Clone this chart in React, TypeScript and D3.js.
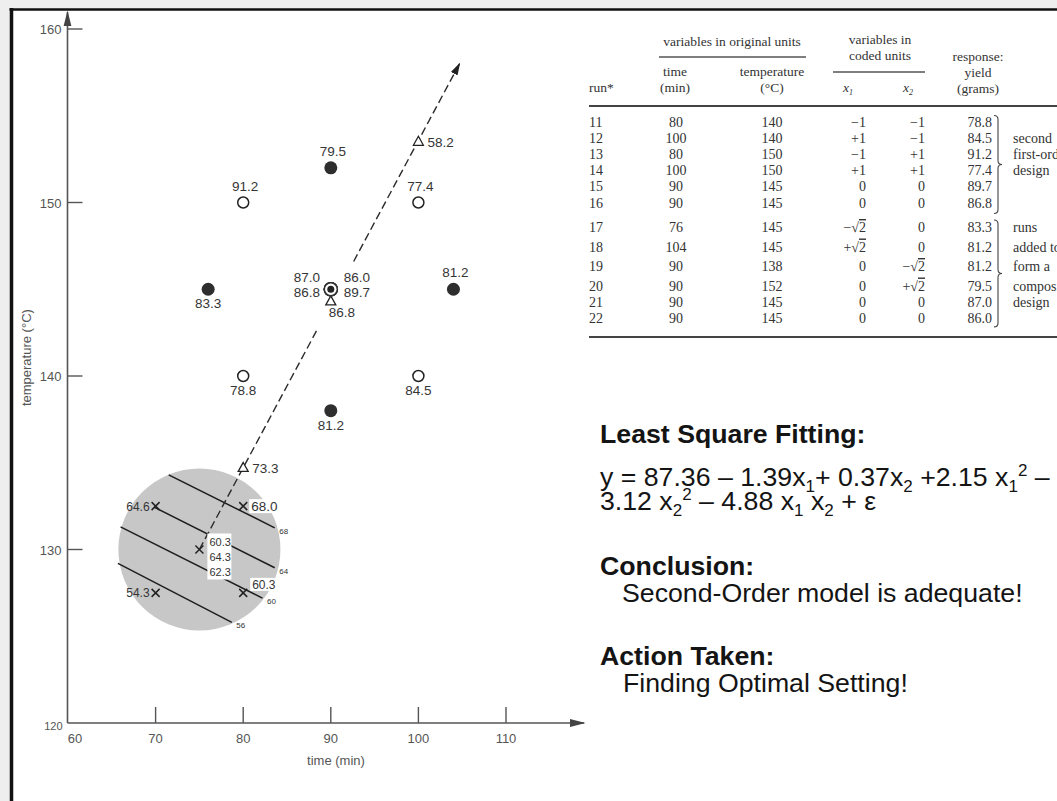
import React from "react";
import * as d3 from "d3";

const W = 1057;
const H = 801;

// ---- table of runs (second-order / central composite design) ----
const runs = [11, 12, 13, 14, 15, 16, 17, 18, 19, 20, 21, 22];
const timeMin = [80, 100, 80, 100, 90, 90, 76, 104, 90, 90, 90, 90];
const tempC = [140, 140, 150, 150, 145, 145, 145, 145, 138, 152, 145, 145];
const codedX1 = ["−1", "+1", "−1", "+1", "0", "0", "−√2", "+√2", "0", "0", "0", "0"];
const codedX2 = ["−1", "−1", "+1", "+1", "0", "0", "0", "0", "−√2", "+√2", "0", "0"];
const yieldG = ["78.8", "84.5", "91.2", "77.4", "89.7", "86.8", "83.3", "81.2", "81.2", "79.5", "87.0", "86.0"];
const runGroup = [1, 1, 1, 1, 1, 1, 2, 2, 2, 2, 2, 2];
const groupNotes1 = ["second", "first-order", "design"];
const groupNotes2 = ["runs", "added to", "form a", "composite", "design"];

// marker kind and label placement for each run on the plot
const runMarker = ["open", "open", "open", "open", "centre", "centre", "filled", "filled", "filled", "filled", "centre", "centre"];
const runLabelPos = ["below", "below", "above", "above", "cLR", "cLL", "below", "above", "below", "above", "cUL", "cUR"];

// ---- first-order design (crosses) ----
const firstTime = [70, 80, 70, 80];
const firstTemp = [132.5, 132.5, 127.5, 127.5];
const firstYield = ["64.6", "68.0", "54.3", "60.3"];
const firstLabelPos = ["left", "rightBox", "left", "upRightBox"];
const centreTime = 75;
const centreTemp = 130;
const centreYields = ["60.3", "64.3", "62.3"];
const regionRadiusMin = 9.25;

// ---- path of steepest ascent (triangles) ----
const pathTime = [80, 90, 100];
const pathTemp = [134.7, 144.3, 153.5];
const pathYield = ["73.3", "86.8", "58.2"];
const pathLabelPos = ["right", "belowRight", "right"];
const pathStart = { t: 75, T: 130 };
const pathEnd = { t: 104.7, T: 158 };
const pathGapTemps = [142.6, 146.6];

// ---- contours of the first-order fit ----
const contourLevels = ["68", "64", "60", "56"];
const contourT0 = [71.5, 69.8, 66.0, 65.7];
const contourC0 = [134.3, 132.45, 131.3, 129.2];
const contourT1 = [83.6, 83.6, 82.2, 78.7];
const contourC1 = [131.25, 128.95, 127.2, 125.8];

// ---- axes ----
const xTicks = [60, 70, 80, 90, 100, 110];
const yTicks = [120, 130, 140, 150, 160];

const SANS = "'Liberation Sans', Arial, Helvetica, sans-serif";
const SERIF = "'Liberation Serif', 'Times New Roman', serif";
const PLOT_INK = "#353535";
const TEXT_INK = "#141414";

function Sqrt({ s }: { s: string }) {
  if (!s.includes("√")) return <>{s}</>;
  const [pre] = s.split("√");
  return (
    <>
      <tspan>{pre}√</tspan>
      <tspan style={{ textDecoration: "overline" }}>2</tspan>
    </>
  );
}

function brace(x: number, y0: number, y1: number) {
  const m = (y0 + y1) / 2;
  return `M${x},${y0} q4,0 4,4 L${x + 4},${m - 4} q0,4 4,4 q-4,0 -4,4 L${x + 4},${y1 - 4} q0,4 -4,4`;
}

export default function App() {
  const x = d3.scaleLinear().domain([60, 110]).range([68, 506]);
  const y = d3.scaleLinear().domain([120, 160]).range([723, 29]);
  const axisX = x(60) - 0.5;
  const axisY = y(120);

  const line = d3
    .line<{ t: number; T: number }>()
    .x((d) => x(d.t))
    .y((d) => y(d.T));

  const slope = (pathEnd.T - pathStart.T) / (pathEnd.t - pathStart.t);
  const tAt = (T: number) => pathStart.t + (T - pathStart.T) / slope;
  const seg1 = [pathStart, { t: tAt(pathGapTemps[0]), T: pathGapTemps[0] }];
  const seg2 = [{ t: tAt(pathGapTemps[1]), T: pathGapTemps[1] }, pathEnd];

  const cx = x(centreTime);
  const cy = y(centreTemp);
  const rr = x(centreTime + regionRadiusMin) - x(centreTime);

  // table rows
  const rowY: number[] = [];
  let yy = 126;
  runs.forEach((_, i) => {
    if (i === 0) yy = 126.5;
    else if (runGroup[i] !== runGroup[i - 1]) yy = 232;
    else yy += codedX1[i].includes("√") || codedX2[i].includes("√") ? 19.5 : 16.2;
    rowY.push(yy);
  });
  const g1 = rowY.filter((_, i) => runGroup[i] === 1);
  const g2 = rowY.filter((_, i) => runGroup[i] === 2);

  const runLabel = (i: number) => {
    const px = x(timeMin[i]);
    const py = y(tempC[i]);
    const p = runLabelPos[i];
    const base = { fontSize: 13.5, fill: PLOT_INK, fontFamily: SANS } as any;
    if (p === "above") return <text key={"rl" + i} x={px + 2} y={py - 12} textAnchor="middle" {...base}>{yieldG[i]}</text>;
    if (p === "below") return <text key={"rl" + i} x={px} y={py + 19} textAnchor="middle" {...base}>{yieldG[i]}</text>;
    const dx = p === "cUL" || p === "cLL" ? -24 : 26;
    const dy = p === "cUL" || p === "cUR" ? -7.5 : 7.5;
    return <text key={"rl" + i} x={px + dx} y={py + dy} textAnchor="middle" {...base}>{yieldG[i]}</text>;
  };

  return (
    <svg
      width={W}
      height={H}
      viewBox={`0 0 ${W} ${H}`}
      style={{ position: "absolute", left: 0, top: 0, display: "block" }}
    >
      <defs>
        <marker id="arr" viewBox="0 0 10 10" refX="9" refY="5" markerWidth="9" markerHeight="9" orient="auto">
          <path d="M0,2 L10,5 L0,8 z" fill="#222" />
        </marker>
        <marker id="axarr" viewBox="0 0 10 10" refX="9" refY="5" markerWidth="10" markerHeight="10" orient="auto">
          <path d="M0,2.5 L10,5 L0,7.5 z" fill="#444" />
        </marker>
      </defs>

      {/* frame */}
      <rect x={0} y={0} width={W} height={H} fill="#eeeeee" />
      <rect x={11} y={9} width={W - 11} height={H - 9} fill="#ffffff" />
      <line x1={9.5} y1={9.5} x2={W} y2={9.5} stroke="#111" strokeWidth={2.5} />
      <line x1={11.5} y1={8} x2={11.5} y2={H} stroke="#111" strokeWidth={3.5} />

      {/* ================== PLOT ================== */}
      {/* region of first design */}
      <circle cx={cx} cy={cy} r={rr} fill="#c7c7c7" />

      {/* contours */}
      {contourLevels.map((lv, i) => (
        <g key={"c" + lv}>
          <line
            x1={x(contourT0[i])}
            y1={y(contourC0[i])}
            x2={x(contourT1[i])}
            y2={y(contourC1[i])}
            stroke="#1e1e1e"
            strokeWidth={1.5}
          />
          <text
            x={x(contourT1[i]) + 9}
            y={y(contourC1[i]) + 6}
            textAnchor="middle"
            fontSize={8}
            fontFamily={SANS}
            fill="#333"
          >
            {lv}
          </text>
        </g>
      ))}

      {/* path of steepest ascent */}
      <path d={line(seg1) || ""} fill="none" stroke="#2a2a2a" strokeWidth={1.4} strokeDasharray="8,4" />
      <path d={line(seg2) || ""} fill="none" stroke="#2a2a2a" strokeWidth={1.4} strokeDasharray="8,4" markerEnd="url(#arr)" />

      {/* label boxes inside region */}
      <rect x={cx + 8} y={cy - 16} width={24} height={46} fill="#fff" />
      <rect x={x(firstTime[1]) + 6} y={y(firstTemp[1]) - 7} width={30} height={14} fill="#fff" />
      <rect x={x(firstTime[3]) + 7} y={y(firstTemp[3]) - 15} width={26} height={13} fill="#fff" />

      {/* crosses */}
      {firstTime.map((t, i) => {
        const px = x(t);
        const py = y(firstTemp[i]);
        const p = firstLabelPos[i];
        return (
          <g key={"x" + i}>
            <path d={`M${px - 4},${py - 4}L${px + 4},${py + 4}M${px - 4},${py + 4}L${px + 4},${py - 4}`} stroke="#222" strokeWidth={1.5} />
            {p === "left" && (
              <text x={px - 6} y={py + 4.5} textAnchor="end" fontSize={12} fontFamily={SANS} fill={PLOT_INK}>{firstYield[i]}</text>
            )}
            {p === "rightBox" && (
              <text x={px + 8} y={py + 5} textAnchor="start" fontSize={13.5} fontFamily={SANS} fill={PLOT_INK}>{firstYield[i]}</text>
            )}
            {p === "upRightBox" && (
              <text x={px + 9} y={py - 4} textAnchor="start" fontSize={12} fontFamily={SANS} fill={PLOT_INK}>{firstYield[i]}</text>
            )}
          </g>
        );
      })}
      <path d={`M${cx - 4},${cy - 4}L${cx + 4},${cy + 4}M${cx - 4},${cy + 4}L${cx + 4},${cy - 4}`} stroke="#222" strokeWidth={1.5} />
      {centreYields.map((v, k) => (
        <text key={"cy" + k} x={cx + 10} y={cy - 4 + k * 15} fontSize={11} fontFamily={SANS} fill={PLOT_INK}>{v}</text>
      ))}

      {/* triangles */}
      {pathTime.map((t, i) => {
        const px = x(t);
        const py = y(pathTemp[i]);
        const p = pathLabelPos[i];
        return (
          <g key={"tr" + i}>
            <path d={`M${px},${py - 5.5}L${px + 5},${py + 3.5}L${px - 5},${py + 3.5}Z`} fill="#fff" stroke="#222" strokeWidth={1.3} />
            {p === "right" ? (
              <text x={px + 9} y={py + 5} fontSize={13.5} fontFamily={SANS} fill={PLOT_INK}>{pathYield[i]}</text>
            ) : (
              <text x={px + 11} y={py + 16} textAnchor="middle" fontSize={13.5} fontFamily={SANS} fill={PLOT_INK}>{pathYield[i]}</text>
            )}
          </g>
        );
      })}

      {/* circles from the table */}
      {runs.map((_, i) => {
        const px = x(timeMin[i]);
        const py = y(tempC[i]);
        const m = runMarker[i];
        if (m === "open") return <circle key={"m" + i} cx={px} cy={py} r={5.5} fill="#fff" stroke="#222" strokeWidth={1.5} />;
        if (m === "filled") return <circle key={"m" + i} cx={px} cy={py} r={6.5} fill="#2e2e2e" />;
        return (
          <g key={"m" + i}>
            <circle cx={px} cy={py} r={6.5} fill="#fff" stroke="#333" strokeWidth={1.5} />
            <circle cx={px} cy={py} r={3.5} fill="#222" />
          </g>
        );
      })}
      {runs.map((_, i) => runLabel(i))}

      {/* axes */}
      <line x1={axisX} y1={axisY} x2={axisX} y2={12} stroke="#555" strokeWidth={1.6} markerEnd="url(#axarr)" />
      <line x1={axisX} y1={axisY} x2={584} y2={axisY} stroke="#555" strokeWidth={1.6} markerEnd="url(#axarr)" />
      {yTicks.map((v) => (
        <g key={"yt" + v}>
          {v !== 120 && <line x1={axisX} y1={y(v)} x2={axisX + 15} y2={y(v)} stroke="#555" strokeWidth={1.4} />}
          <text
            x={v === 120 ? axisX - 5 : axisX - 6}
            y={v === 120 ? y(v) + 7 : y(v) + 5}
            textAnchor="end"
            fontSize={v === 120 ? 11 : 13}
            fontFamily={SANS}
            fill="#555"
          >
            {v}
          </text>
        </g>
      ))}
      {xTicks.map((v) => (
        <g key={"xt" + v}>
          {v !== 60 && <line x1={x(v)} y1={axisY} x2={x(v)} y2={axisY - 16} stroke="#555" strokeWidth={1.4} />}
          <text x={v === 60 ? x(v) + 7 : x(v)} y={axisY + 20} textAnchor="middle" fontSize={13} fontFamily={SANS} fill="#555">
            {v}
          </text>
        </g>
      ))}
      <text x={336} y={axisY + 42} textAnchor="middle" fontSize={13} fontFamily={SANS} fill="#555">
        time  (min)
      </text>
      <text
        transform={`translate(31,${(y(140) + y(145)) / 2 + 25}) rotate(-90)`}
        textAnchor="middle"
        fontSize={13}
        fontFamily={SANS}
        fill="#555"
      >
        temperature  (°C)
      </text>

      {/* ================== TABLE ================== */}
      <g fontFamily={SERIF} fill="#333" fontSize={13.5}>
        <text x={732} y={46} textAnchor="middle">variables in original units</text>
        <line x1={659} y1={57} x2={806} y2={57} stroke="#555" strokeWidth={1.3} />
        <text x={880} y={44} textAnchor="middle">variables in</text>
        <text x={880} y={60} textAnchor="middle">coded units</text>
        <line x1={833} y1={72} x2={925} y2={72} stroke="#555" strokeWidth={1.3} />
        <text x={978} y={61} textAnchor="middle">response:</text>
        <text x={978} y={77} textAnchor="middle">yield</text>
        <text x={978} y={93} textAnchor="middle">(grams)</text>
        <text x={675} y={76} textAnchor="middle">time</text>
        <text x={675} y={92} textAnchor="middle">(min)</text>
        <text x={772} y={76} textAnchor="middle">temperature</text>
        <text x={772} y={92} textAnchor="middle">(°C)</text>
        <text x={589} y={92}>run*</text>
        <text x={848} y={92} textAnchor="middle" fontStyle="italic">x<tspan fontSize={8} dy={3}>1</tspan></text>
        <text x={908} y={92} textAnchor="middle" fontStyle="italic">x<tspan fontSize={8} dy={3}>2</tspan></text>
        <line x1={589} y1={106} x2={W} y2={106} stroke="#444" strokeWidth={2} />
        <line x1={589} y1={337} x2={W} y2={337} stroke="#444" strokeWidth={2} />

        {runs.map((r, i) => (
          <g key={"row" + r} fontSize={14}>
            <text x={589} y={rowY[i]}>{r}</text>
            <text x={676} y={rowY[i]} textAnchor="middle">{timeMin[i]}</text>
            <text x={772} y={rowY[i]} textAnchor="middle">{tempC[i]}</text>
            <text x={866} y={rowY[i]} textAnchor="end"><Sqrt s={codedX1[i]} /></text>
            <text x={925} y={rowY[i]} textAnchor="end"><Sqrt s={codedX2[i]} /></text>
            <text x={992} y={rowY[i]} textAnchor="end">{yieldG[i]}</text>
          </g>
        ))}
        <path d={brace(994, g1[0] - 11, g1[g1.length - 1] + 6)} fill="none" stroke="#444" strokeWidth={1.1} />
        <path d={brace(994, g2[0] - 12, g2[g2.length - 1] + 4)} fill="none" stroke="#444" strokeWidth={1.1} />
        {groupNotes1.map((s, k) => (
          <text key={"n1" + k} x={1013} y={rowY[1 + k]} fontSize={14}>{s}</text>
        ))}
        {groupNotes2.map((s, k) => (
          <text key={"n2" + k} x={1013} y={rowY[6 + k]} fontSize={14}>{s}</text>
        ))}
      </g>

      {/* ================== TEXT ================== */}
      <g fontFamily={SANS} fill={TEXT_INK} fontSize={26.7}>
        <text x={600} y={443} fontWeight="bold">Least Square Fitting:</text>
        <text x={600} y={486}>
          y = 87.36 – 1.39x
          <tspan fontSize={17} dy={6}>1</tspan>
          <tspan dy={-6}>+ 0.37x</tspan>
          <tspan fontSize={17} dy={6}>2</tspan>
          <tspan dy={-6}> +2.15 x</tspan>
          <tspan fontSize={17} dy={6}>1</tspan>
          <tspan fontSize={17} dy={-16}>2</tspan>
          <tspan dy={10}> –</tspan>
        </text>
        <text x={600} y={510}>
          3.12 x
          <tspan fontSize={17} dy={6}>2</tspan>
          <tspan fontSize={17} dy={-16}>2</tspan>
          <tspan dy={10}> – 4.88 x</tspan>
          <tspan fontSize={17} dy={6}>1</tspan>
          <tspan dy={-6}> x</tspan>
          <tspan fontSize={17} dy={6}>2</tspan>
          <tspan dy={-6}> + ε</tspan>
        </text>
        <text x={600} y={575} fontWeight="bold">Conclusion:</text>
        <text x={622} y={602}>Second-Order model is adequate!</text>
        <text x={600} y={665} fontWeight="bold">Action Taken:</text>
        <text x={623} y={692}>Finding Optimal Setting!</text>
      </g>
    </svg>
  );
}
